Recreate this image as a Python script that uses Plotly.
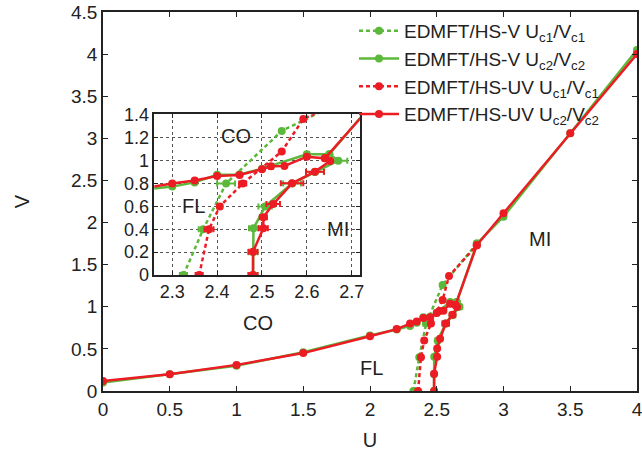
import plotly.graph_objects as go

GREEN = "#5cb83a"
RED = "#ec1c24"

# HS-V Uc1/Vc1 (green dashed)
v_c1_U = [2.325, 2.369, 2.42, 2.544, 2.8]
v_c1_V = [0.0, 0.4, 0.8, 1.26, 1.75]
v_c1_ex = [0.008, 0.01, 0.02, 0.0, 0.0]

# HS-V Uc2/Vc2 (green solid) - upper branch
v_c2a_U = [0.0, 0.5, 1.0, 1.5, 2.0, 2.2, 2.3, 2.35, 2.4, 2.45, 2.5, 2.6, 2.65, 2.8, 3.0, 3.5, 4.0]
v_c2a_V = [0.10, 0.20, 0.30, 0.46, 0.66, 0.73, 0.773, 0.81, 0.876, 0.88, 0.93, 1.056, 1.056, 1.75, 2.07, 3.06, 4.05]
v_c2a_ey = [0, 0, 0, 0, 0, 0, 0, 0, 0, 0, 0, 0.02, 0.02, 0, 0, 0, 0]
# HS-V Uc2/Vc2 (green solid) - lower branch
v_c2b_U = [2.48, 2.48, 2.481, 2.507, 2.567, 2.618, 2.67, 2.65]
v_c2b_V = [0.0, 0.2, 0.408, 0.6, 0.8, 0.9, 1.0, 1.056]
v_c2b_ex = [0.01, 0.01, 0.01, 0.015, 0.02, 0.02, 0.02, 0.0]

# HS-UV Uc1/Vc1 (red dashed)
uv_c1_U = [2.36, 2.382, 2.406, 2.457, 2.544, 2.592, 2.8]
uv_c1_V = [0.0, 0.4, 0.6, 0.8, 1.08, 1.365, 1.73]
uv_c1_ex = [0.008, 0.01, 0.005, 0.008, 0.0, 0.0, 0.0]

# HS-UV Uc2/Vc2 (red solid) - upper branch
uv_c2a_U = [0.0, 0.5, 1.0, 1.5, 2.0, 2.2, 2.3, 2.35, 2.4, 2.45, 2.5, 2.52, 2.55, 2.6, 2.64, 2.8, 3.0, 3.5, 4.0]
uv_c2a_V = [0.12, 0.20, 0.31, 0.45, 0.65, 0.735, 0.80, 0.826, 0.866, 0.875, 0.925, 0.95, 0.954, 1.035, 1.02, 1.73, 2.11, 3.06, 4.0]
uv_c2a_ey = [0, 0, 0, 0, 0, 0, 0, 0, 0, 0, 0, 0.02, 0, 0, 0, 0, 0, 0, 0]
# HS-UV Uc2/Vc2 (red solid) - lower branch
uv_c2b_U = [2.48, 2.48, 2.503, 2.503, 2.525, 2.567, 2.618, 2.652, 2.64]
uv_c2b_V = [0.0, 0.204, 0.408, 0.505, 0.62, 0.802, 0.904, 0.997, 1.02]
uv_c2b_ex = [0.01, 0.01, 0.01, 0.008, 0.015, 0.025, 0.02, 0.0, 0.0]

main_labels = [("MI", 3.27, 1.81), ("FL", 2.01, 0.27), ("CO", 1.16, 0.81)]
inset_labels = [("CO", 2.442, 1.216), ("FL", 2.348, 0.60), ("MI", 2.67, 0.40)]

LEG = [
    "EDMFT/HS-V U<sub>c1</sub>/V<sub>c1</sub>",
    "EDMFT/HS-V U<sub>c2</sub>/V<sub>c2</sub>",
    "EDMFT/HS-UV U<sub>c1</sub>/V<sub>c1</sub>",
    "EDMFT/HS-UV U<sub>c2</sub>/V<sub>c2</sub>",
]

series = [
    (v_c1_U, v_c1_V, v_c1_ex, None, GREEN, "4px,3px", LEG[0], True),
    (v_c2a_U, v_c2a_V, None, v_c2a_ey, GREEN, "solid", LEG[1], True),
    (v_c2b_U, v_c2b_V, v_c2b_ex, None, GREEN, "solid", LEG[1], False),
    (uv_c1_U, uv_c1_V, uv_c1_ex, None, RED, "4px,3px", LEG[2], True),
    (uv_c2a_U, uv_c2a_V, None, uv_c2a_ey, RED, "solid", LEG[3], True),
    (uv_c2b_U, uv_c2b_V, uv_c2b_ex, None, RED, "solid", LEG[3], False),
]

fig = go.Figure()
for axes in [("x", "y"), ("x2", "y2")]:
    for (U, V, ex, ey, col, dash, name, leg) in series:
        kw = {}
        if ex is not None:
            kw["error_x"] = dict(type="data", array=ex, color=col, thickness=2, width=3)
        if ey is not None:
            kw["error_y"] = dict(type="data", array=ey, color=col, thickness=2, width=3)
        fig.add_trace(go.Scatter(
            x=U, y=V, mode="lines+markers", name=name,
            legendgroup=name, showlegend=(leg and axes[0] == "x"),
            line=dict(color=col, width=2.5, dash=dash),
            marker=dict(color=col, size=8, symbol="circle"),
            xaxis=axes[0], yaxis=axes[1], **kw))

font = "Liberation Sans, Arial, sans-serif"
for t, x, y in main_labels:
    fig.add_annotation(x=x, y=y, text=t, showarrow=False, xref="x", yref="y",
                       font=dict(size=20, color="#222", family=font))
for t, x, y in inset_labels:
    fig.add_annotation(x=x, y=y, text=t, showarrow=False, xref="x2", yref="y2",
                       font=dict(size=20, color="#222", family=font))

fig.update_layout(
    width=642, height=454,
    margin=dict(l=103, r=5, t=12, b=63),
    paper_bgcolor="white", plot_bgcolor="white",
    font=dict(family=font, size=19, color="#222"),
    showlegend=True,
    legend=dict(x=0.47, y=1.0, xanchor="left", yanchor="top",
                bgcolor="rgba(0,0,0,0)", font=dict(size=19, family=font),
                tracegroupgap=0, itemwidth=40),
    xaxis=dict(range=[0, 4], dtick=0.5, showgrid=False, zeroline=False,
               ticks="inside", ticklen=5, tickcolor="#222", mirror="ticks",
               showline=True, linecolor="#222", linewidth=1.5, automargin=False,
               ticklabeloverflow="allow",
               title=dict(text="U", font=dict(size=20), standoff=14),
               tickfont=dict(size=19)),
    yaxis=dict(range=[0, 4.5], dtick=0.5, showgrid=False, zeroline=False,
               ticks="inside", ticklen=5, tickcolor="#222", mirror="ticks",
               showline=True, linecolor="#222", linewidth=1.5, automargin=False,
               ticklabeloverflow="allow",
               title=dict(text="V", font=dict(size=20), standoff=36),
               tickfont=dict(size=19)),
    xaxis2=dict(domain=[0.096, 0.481], anchor="y2", range=[2.26, 2.718],
                tickvals=[2.3, 2.4, 2.5, 2.6, 2.7], ticktext=["2.3", "2.4", "2.5", "2.6", "2.7"],
                showgrid=True, gridcolor="#555", griddash="dot", gridwidth=1,
                zeroline=False, ticks="inside", ticklen=4, tickcolor="#222",
                mirror="ticks", showline=True, linecolor="#222", linewidth=1.5,
                automargin=False, tickfont=dict(size=18)),
    yaxis2=dict(domain=[0.306, 0.730], anchor="x2", range=[0, 1.405],
                tickvals=[0, 0.2, 0.4, 0.6, 0.8, 1.0, 1.2, 1.4],
                ticktext=["0", "0.2", "0.4", "0.6", "0.8", "1", "1.2", "1.4"],
                showgrid=True, gridcolor="#555", griddash="dot", gridwidth=1,
                zeroline=False, ticks="inside", ticklen=4, tickcolor="#222",
                mirror="ticks", showline=True, linecolor="#222", linewidth=1.5,
                automargin=False, tickfont=dict(size=18)),
)

# remove the default 8px page margin so the figure sits at the window's top-left
fig.write_html("out.html", config={"displayModeBar": False},
               post_script="document.body.style.margin='0';")
